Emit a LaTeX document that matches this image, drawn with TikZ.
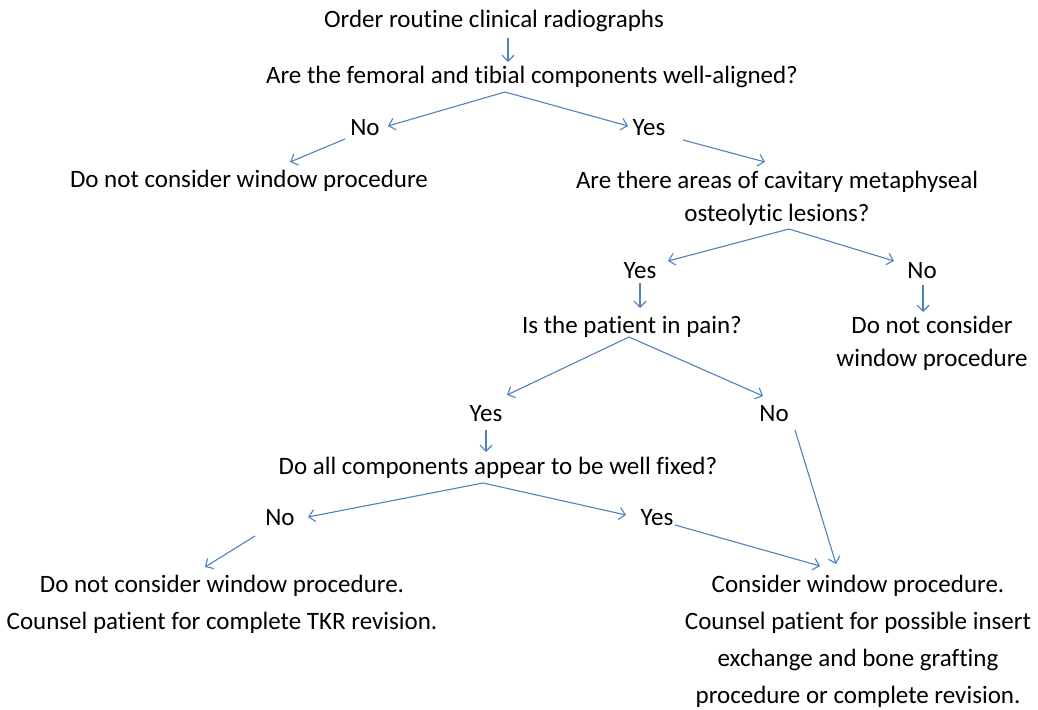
\documentclass[tikz,border=0pt]{standalone}
\usepackage{fontspec}
\setmainfont[Ligatures=NoCommon]{Carlito}
\usetikzlibrary{arrows.meta}
\definecolor{arrblue}{HTML}{4F81BD}
\tikzset{
  txt/.style={anchor=base, inner sep=0pt, font=\fontsize{25}{33}\selectfont, align=center},
  txtb/.style={anchor=base, inner sep=0pt, font=\fontsize{25}{37}\selectfont, align=center},
  arr/.style={draw=arrblue, line width=1.1pt, -{Straight Barb[length=6pt,width=12pt]}}
}
\begin{document}
\begin{tikzpicture}[x=1pt,y=-1pt]
\useasboundingbox (0,0) rectangle (1038,709);
\node[txt] (t1) at (494,28) {Order routine clinical radiographs};
\node[txt] (q1) at (532,84) {Are the femoral and tibial components well-aligned?};
\node[txt] (no1) at (365,135) {No};
\node[txt] (yes1) at (649,135) {Yes};
\node[txt] (d1) at (249,187) {Do not consider window procedure};
\node[txt] (q2) at (777,221) {Are there areas of cavitary metaphyseal\\osteolytic lesions?};
\node[txt] (yes2) at (640,278) {Yes};
\node[txt] (no2) at (922,278) {No};
\node[txt] (q3) at (632,333) {Is the patient in pain?};
\node[txt] (d2) at (932,366) {Do not consider\\window procedure};
\node[txt] (yes3) at (486,421) {Yes};
\node[txt] (no3) at (774,421) {No};
\node[txt] (q4) at (498,474) {Do all components appear to be well fixed?};
\node[txt] (no4) at (280,525) {No};
\node[txt] (yes4) at (657,525) {Yes};
\node[txtb] (d3) at (222,629) {Do not consider window procedure.\\Counsel patient for complete TKR revision.};
\node[txtb] (d4) at (858,703) {Consider window procedure.\\Counsel patient for possible insert\\exchange and bone grafting\\procedure or complete revision.};
\draw[arr] ([shift={(14,10)}]t1.base) -- ([shift={(-24,-22)}]q1.base);
\draw[arr] ([shift={(-27,8)}]q1.base) -- ([shift={(23,-9)}]no1.base);
\draw[arr] ([shift={(-27,8)}]q1.base) -- ([shift={(-21,-9)}]yes1.base);
\draw[arr] ([shift={(-20,4)}]no1.base) -- ([shift={(41,-25)}]d1.base);
\draw[arr] ([shift={(34,5)}]yes1.base) -- ([shift={(-12,-59)}]q2.base);
\draw[arr] ([shift={(12,8)}]q2.base) -- ([shift={(28,-17)}]yes2.base);
\draw[arr] ([shift={(12,8)}]q2.base) -- ([shift={(-28,-17)}]no2.base);
\draw[arr] ([shift={(0,5)}]yes2.base) -- ([shift={(8,-25)}]q3.base);
\draw[arr] ([shift={(1,7)}]no2.base) -- ([shift={(-9,-54)}]d2.base);
\draw[arr] ([shift={(-3,4)}]q3.base) -- ([shift={(21,-26)}]yes3.base);
\draw[arr] ([shift={(-3,4)}]q3.base) -- ([shift={(-11,-25)}]no3.base);
\draw[arr] ([shift={(0,9)}]yes3.base) -- ([shift={(-12,-22)}]q4.base);
\draw[arr] ([shift={(21,9)}]no3.base) -- ([shift={(-22,-139)}]d4.base);
\draw[arr] ([shift={(-15,9)}]q4.base) -- ([shift={(28,-8)}]no4.base);
\draw[arr] ([shift={(-15,9)}]q4.base) -- ([shift={(-31,-10)}]yes4.base);
\draw[arr] ([shift={(-25,11)}]no4.base) -- ([shift={(-17,-62)}]d3.base);
\draw[arr] ([shift={(18,0)}]yes4.base) -- ([shift={(-38,-137)}]d4.base);
\end{tikzpicture}
\end{document}
